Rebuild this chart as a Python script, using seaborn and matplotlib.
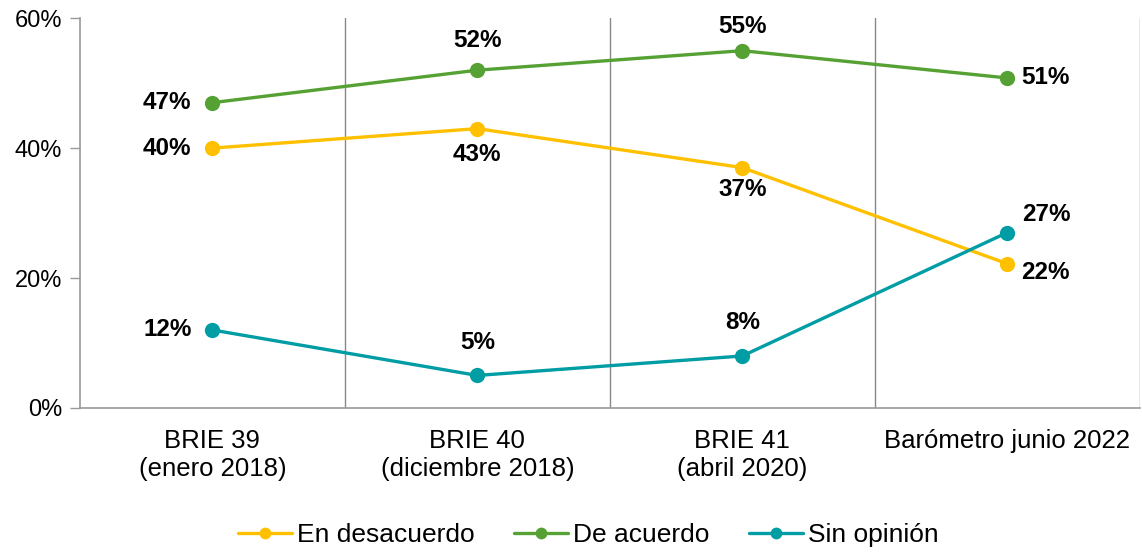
import matplotlib
matplotlib.use("Agg")
import matplotlib.pyplot as plt
import seaborn as sns
import pandas as pd
import numpy as np

categories = ["BRIE 39\n(enero 2018)", "BRIE 40\n(diciembre 2018)", "BRIE 41\n(abril 2020)", "Barómetro junio 2022"]
series_names = ["En desacuerdo", "De acuerdo", "Sin opinión"]
desacuerdo = [40, 43, 37, 22.2]
acuerdo = [47, 52, 55, 50.8]
sin_opinion = [12, 5, 8, 27]
colors = ["#FFC000", "#56A133", "#009DA5"]
yticks = [0, 20, 40, 60]

sns.set_theme(style="white")
plt.rcParams["font.family"] = ["Liberation Sans", "DejaVu Sans"]

rows = []
for name, vals in zip(series_names, [desacuerdo, acuerdo, sin_opinion]):
    for i, v in enumerate(vals):
        rows.append({"x": i, "value": v, "serie": name})
df = pd.DataFrame(rows)

fig = plt.figure(figsize=(11.42, 5.52), dpi=100)
ax = fig.add_axes([0.070, 0.261, 0.928, 0.706])

sns.lineplot(data=df, x="x", y="value", hue="serie", hue_order=series_names,
             palette=colors, marker="o", markersize=11, markeredgewidth=0,
             linewidth=2.4, ax=ax)

FS = 17.5
ax.set_xlim(-0.5, 3.5)
ax.set_ylim(0, 60)
ax.set_yticks(yticks)
ax.set_yticklabels([f"{t}%" for t in yticks], fontsize=17, color="black")
ax.set_xticks(range(len(categories)))
ax.set_xticklabels(categories, fontsize=18.5, color="black", linespacing=1.2)
ax.tick_params(axis="x", which="major", length=0, pad=15)
ax.set_xticks([0.5, 1.5, 2.5, 3.5], minor=True)
ax.tick_params(axis="x", which="minor", length=7, color="#888888", width=1, direction="out")
ax.tick_params(axis="y", length=7, color="#999999", width=1, direction="out", pad=6, left=True)
for x in [0.5, 1.5, 2.5, 3.5]:
    ax.axvline(x, color="#888888", linewidth=1, zorder=0)
for s in ["top", "right"]:
    ax.spines[s].set_visible(False)
ax.spines["left"].set_color("#999999")
ax.spines["bottom"].set_color("#999999")
ax.spines["left"].set_linewidth(1.2)
ax.spines["bottom"].set_linewidth(1.2)
ax.set_xlabel("")
ax.set_ylabel("")

# label offsets in points (dx, dy, ha)
offsets = {
    "En desacuerdo": [(-15, 0, "right"), (0, -18.5, "center"), (0, -15.5, "center"), (10, -6, "left")],
    "De acuerdo": [(-15, 0, "right"), (0, 21.5, "center"), (0, 17.5, "center"), (10, 0, "left")],
    "Sin opinión": [(-15, 0, "right"), (0, 24, "center"), (0, 24, "center"), (11, 13, "left")],
}
for name, vals in zip(series_names, [desacuerdo, acuerdo, sin_opinion]):
    for i, v in enumerate(vals):
        dx, dy, ha = offsets[name][i]
        ax.annotate(f"{round(v)}%", (i, v), xytext=(dx, dy), textcoords="offset points",
                    ha=ha, va="center", fontsize=FS, fontweight="bold", color="black")

handles, labels = ax.get_legend_handles_labels()
ax.get_legend().remove()
leg = fig.legend(handles, labels, loc="center", bbox_to_anchor=(0.515, 0.031), ncol=3,
                 frameon=False, fontsize=19, handlelength=2.05, handletextpad=0.18,
                 columnspacing=1.5, borderaxespad=0, labelcolor="black")
for h in leg.legend_handles:
    h.set_markersize(8.5)
    h.set_linewidth(2.4)

fig.savefig("out.png", dpi=100)
